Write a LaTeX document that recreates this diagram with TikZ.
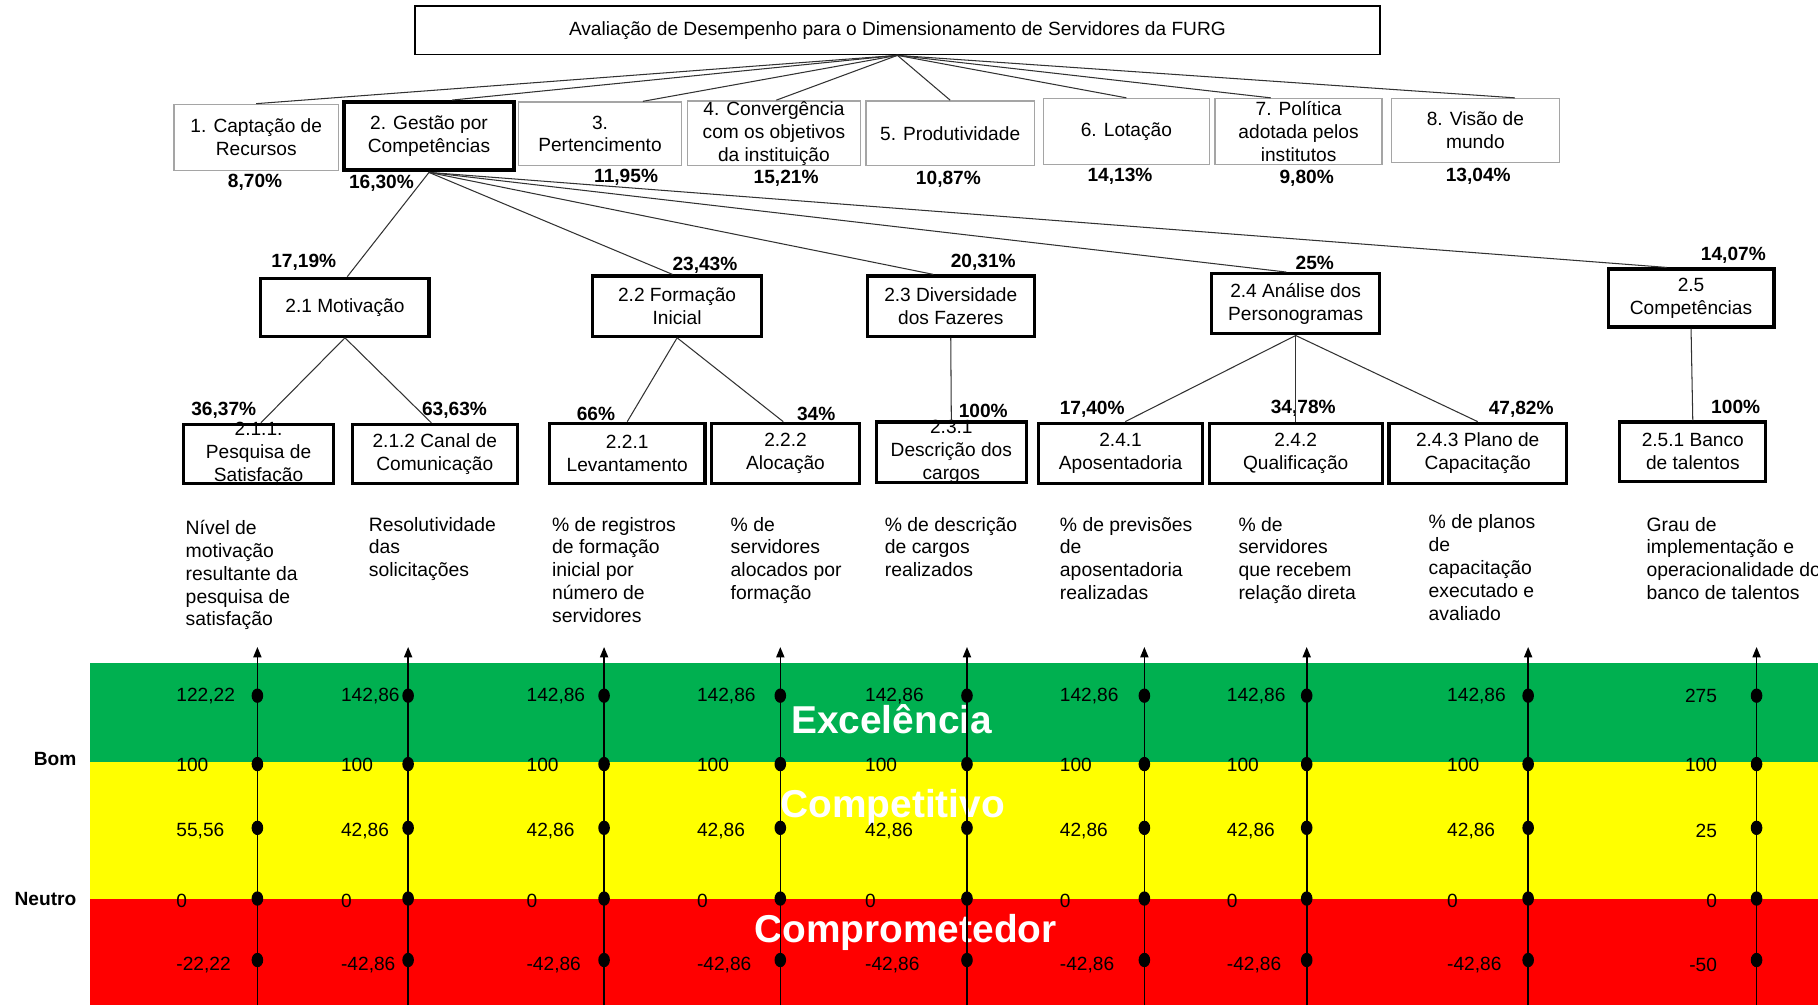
\documentclass[tikz,border=0pt]{standalone}
\usepackage{fontspec}
\setmainfont{Liberation Sans}
\usetikzlibrary{arrows.meta,calc}
\definecolor{bandgreen}{RGB}{0,176,80}
\definecolor{bandyellow}{RGB}{255,255,0}
\definecolor{bandred}{RGB}{255,0,0}
\definecolor{framegray}{RGB}{165,165,165}
\definecolor{linkgray}{RGB}{50,50,50}
\begin{document}
\begin{tikzpicture}[x=1pt,y=-1pt,
  txt/.style={font=\fontsize{16.5}{19.8}\selectfont, inner sep=0pt, align=center},
  pct/.style={font=\fontsize{16.5}{19.8}\selectfont\bfseries, inner sep=0pt},
  ind/.style={font=\fontsize{16.7}{19.7}\selectfont, inner sep=0pt, align=left, anchor=north west},
  val/.style={font=\fontsize{16.5}{19.8}\selectfont, inner sep=0pt},
  bandlabel/.style={font=\fontsize{33.5}{40}\selectfont\bfseries, text=white, inner sep=0pt},
  titlebox/.style={draw=black, line width=1.5pt, inner sep=0pt},
  topbox/.style={draw=framegray, line width=1.2pt, inner sep=0pt},
  keybox/.style={draw=black, line width=3.4pt, inner sep=0pt},
  subbox/.style={draw=black, line width=2.7pt, inner sep=0pt},
  link/.style={draw=linkgray, line width=0.9pt},
  axis/.style={line width=1.4pt, -{Triangle[length=9pt,width=7pt]}}]

\useasboundingbox (0,0) rectangle (1568,867);
\clip (0,0) rectangle (1568,867);
\fill[white] (0,0) rectangle (1568,867);

% ---------- rating bands ----------
\fill[bandgreen]  (78,572) rectangle (1568,657);
\fill[bandyellow] (78,657) rectangle (1568,775);
\fill[bandred]    (78,775) rectangle (1568,867);
\node[bandlabel] (lblexc)  at (769,620) {Excelência};
\node[bandlabel] (lblcomp) at (770,696) {Competitivo};
\node[bandlabel] (lblcpr)  at (781,804) {Comprometedor};
\node[pct, anchor=east] (lblbom) at (66,655) {Bom};
\node[pct, anchor=east] (lblneu) at (66,775) {Neutro};

% ---------- title ----------
\node[titlebox, minimum width=832pt, minimum height=42pt] (title) at (774,26) {};
\node[txt] (titlet) at (title) {Avaliação de Desempenho para o Dimensionamento de Servidores da FURG};

% ---------- criteria ----------
\node[topbox, minimum width=142pt, minimum height=57pt] (b1) at (221,118.5) {};
\node[txt] (b1t) at (b1) {1. Captação de\\Recursos};
\node[keybox, minimum width=146pt, minimum height=59pt] (b2) at (370,117.5) {};
\node[txt] (b2t) at (b2) {2. Gestão por\\Competências};
\node[topbox, minimum width=141pt, minimum height=55pt] (b3) at (517.5,115.5) {};
\node[txt] (b3t) at (b3) {3.\\Pertencimento};
\node[topbox, minimum width=149pt, minimum height=56pt] (b4) at (667.5,115) {};
\node[txt] (b4t) at (b4) {4. Convergência\\com os objetivos\\da instituição};
\node[topbox, minimum width=145pt, minimum height=56pt] (b5) at (819.5,115) {};
\node[txt] (b5t) at (b5) {5. Produtividade};
\node[topbox, minimum width=143pt, minimum height=57pt] (b6) at (971.5,113.5) {};
\node[txt] (b6t) at (b6) {6. Lotação};
\node[topbox, minimum width=144pt, minimum height=57pt] (b7) at (1120,113.5) {};
\node[txt] (b7t) at (b7) {7. Política\\adotada pelos\\institutos};
\node[topbox, minimum width=145pt, minimum height=55pt] (b8) at (1272.5,112.5) {};
\node[txt] (b8t) at (b8) {8. Visão de\\mundo};

\node[pct] (p1) at (220,157) {8,70\%};
\node[pct] (p2) at (329,158) {16,30\%};
\node[pct] (p3) at (540,153) {11,95\%};
\node[pct] (p4) at (678,154) {15,21\%};
\node[pct] (p5) at (818,155) {10,87\%};
\node[pct] (p6) at (966,152) {14,13\%};
\node[pct] (p7) at (1127,154) {9,80\%};
\node[pct] (p8) at (1275,152) {13,04\%};

% ---------- sub-criteria of 2 ----------
\node[subbox, minimum width=145pt, minimum height=50pt] (c21) at (297.5,265) {};
\node[txt] (c21t) at (c21) {2.1 Motivação};
\node[subbox, minimum width=146pt, minimum height=52pt] (c22) at (584,264) {};
\node[txt] (c22t) at (c22) {2.2 Formação\\Inicial};
\node[subbox, minimum width=144pt, minimum height=52pt] (c23) at (820,264) {};
\node[txt] (c23t) at (c23) {2.3 Diversidade\\dos Fazeres};
\node[subbox, minimum width=145pt, minimum height=52pt] (c24) at (1117.5,262) {};
\node[txt] (c24t) at (c24) {2.4 Análise dos\\Personogramas};
\node[subbox, minimum width=143pt, minimum height=50pt] (c25) at (1458.5,257) {};
\node[txt] (c25t) at (c25) {2.5\\Competências};

\node[pct] (q1) at (262,226) {17,19\%};
\node[pct] (q2) at (608,229) {23,43\%};
\node[pct] (q3) at (848,226) {20,31\%};
\node[pct] (q4) at (1134,227) {25\%};
\node[pct] (q5) at (1495,220) {14,07\%};

% ---------- indicators ----------
\node[subbox, minimum width=130pt, minimum height=51pt] (d211) at (223,391.5) {};
\node[txt] (d211t) at (d211) {2.1.1.\\Pesquisa de\\Satisfação};
\node[subbox, minimum width=142pt, minimum height=51pt] (d212) at (375,391.5) {};
\node[txt] (d212t) at (d212) {2.1.2 Canal de\\Comunicação};
\node[subbox, minimum width=134pt, minimum height=52pt] (d221) at (541,391) {};
\node[txt] (d221t) at (d221) {2.2.1\\Levantamento};
\node[subbox, minimum width=127pt, minimum height=52pt] (d222) at (677.5,391) {};
\node[txt] (d222t) at (d222) {2.2.2\\Alocação};
\node[subbox, minimum width=129pt, minimum height=52pt] (d231) at (820.5,390) {};
\node[txt] (d231t) at (d231) {2.3.1\\Descrição dos\\cargos};
\node[subbox, minimum width=141pt, minimum height=52pt] (d241) at (966.5,391) {};
\node[txt] (d241t) at (d241) {2.4.1\\Aposentadoria};
\node[subbox, minimum width=149pt, minimum height=52pt] (d242) at (1117.5,391) {};
\node[txt] (d242t) at (d242) {2.4.2\\Qualificação};
\node[subbox, minimum width=153pt, minimum height=52pt] (d243) at (1274.5,391) {};
\node[txt] (d243t) at (d243) {2.4.3 Plano de\\Capacitação};
\node[subbox, minimum width=126pt, minimum height=51pt] (d251) at (1460,389.5) {};
\node[txt] (d251t) at (d251) {2.5.1 Banco\\de talentos};

\node[pct] (r1) at (193,354) {36,37\%};
\node[pct] (r2) at (392,354) {63,63\%};
\node[pct] (r3) at (514,357) {66\%};
\node[pct] (r4) at (704,357) {34\%};
\node[pct] (r5) at (848,354) {100\%};
\node[pct] (r6) at (942,353) {17,40\%};
\node[pct] (r7) at (1124,352) {34,78\%};
\node[pct] (r8) at (1312,353) {47,82\%};
\node[pct] (r9) at (1497,351) {100\%};

% ---------- indicator descriptions ----------
\node[ind] (i1) at (160,447) {\strut Nível de\\motivação\\resultante da\\pesquisa de\\satisfação};
\node[ind] (i2) at (318,444) {\strut Resolutividade\\das\\solicitações};
\node[ind] (i3) at (476,444) {\strut \% de registros\\de formação\\inicial por\\número de\\servidores};
\node[ind] (i4) at (630,444) {\strut \% de\\servidores\\alocados por\\formação};
\node[ind] (i5) at (763,444) {\strut \% de descrição\\de cargos\\realizados};
\node[ind] (i6) at (914,444) {\strut \% de previsões\\de\\aposentadoria\\realizadas};
\node[ind] (i7) at (1068,444) {\strut \% de\\servidores\\que recebem\\relação direta};
\node[ind] (i8) at (1232,442) {\strut \% de planos\\de\\capacitação\\executado e\\avaliado};
\node[ind] (i9) at (1420,444) {\strut Grau de\\implementação e\\operacionalidade do\\banco de talentos};

% ---------- hierarchy links ----------
\draw[link] (title.south) -- (b1.north);
\draw[link] (title.south) -- ([xshift=20pt]b2.north);
\draw[link] (title.south) -- ([xshift=37pt]b3.north);
\draw[link] (title.south) -- ([xshift=2pt]b4.north);
\draw[link] (title.south) -- (b5.north);
\draw[link] (title.south) -- (b6.north);
\draw[link] (title.south) -- ([xshift=-24pt]b7.north);
\draw[link] (title.south) -- ([xshift=34pt]b8.north);

\draw[link] (b2.south) -- ([xshift=2pt]c21.north);
\draw[link] (b2.south) -- ([xshift=-4pt]c22.north);
\draw[link] (b2.south) -- ([xshift=-15pt]c23.north);
\draw[link] (b2.south) -- ([xshift=-8pt]c24.north);
\draw[link] (b2.south) -- ([xshift=-21pt]c25.north);

\draw[link] (c21.south) -- ([xshift=2pt]d211.north);
\draw[link] (c21.south) -- ([xshift=-3pt]d212.north);
\draw[link] (c22.south) -- (d221.north);
\draw[link] (c22.south) -- ([xshift=-2pt]d222.north);
\draw[link] (c23.south) -- (d231.north);
\draw[link] (c24.south) -- ([xshift=4pt]d241.north);
\draw[link] (c24.south) -- (d242.north);
\draw[link] (c24.south) -- (d243.north);
\draw[link] (c25.south) -- (d251.north);

% ---------- scale values ----------
\foreach \x/\a/\b/\c/\d/\e [count=\k] in {
    152/{122,22}/100/{55,56}/0/{-22,22},
    294/{142,86}/100/{42,86}/0/{-42,86},
    454/{142,86}/100/{42,86}/0/{-42,86},
    601/{142,86}/100/{42,86}/0/{-42,86},
    746/{142,86}/100/{42,86}/0/{-42,86},
    914/{142,86}/100/{42,86}/0/{-42,86},
    1058/{142,86}/100/{42,86}/0/{-42,86},
    1248/{142,86}/100/{42,86}/0/{-42,86}} {
  \node[val, anchor=west] (v\k a) at (\x,600) {\a};
  \node[val, anchor=west] (v\k b) at (\x,660) {\b};
  \node[val, anchor=west] (v\k c) at (\x,717) {\c};
  \node[val, anchor=west] (v\k d) at (\x,777) {\d};
  \node[val, anchor=west] (v\k e) at (\x,832) {\e};
}
\node[val, anchor=east] (v9a) at (1481,600) {275};
\node[val, anchor=east] (v9b) at (1481,660) {100};
\node[val, anchor=east] (v9c) at (1481,717) {25};
\node[val, anchor=east] (v9d) at (1481,777) {0};
\node[val, anchor=east] (v9e) at (1481,832) {-50};

% ---------- scale axes ----------
\foreach \n/\x in {1/222,2/352,3/521,4/673,5/834,6/987,7/1127,8/1318,9/1515} {
  \coordinate (axb\n) at (\x,867);
  \coordinate (axt\n) at (\x,558);
  \draw[axis] (axb\n) -- (axt\n);
  \foreach \y in {600,659,714,775,828}
    \fill (\x,\y) ellipse [x radius=5pt, y radius=6.2pt];
}
\end{tikzpicture}
\end{document}
